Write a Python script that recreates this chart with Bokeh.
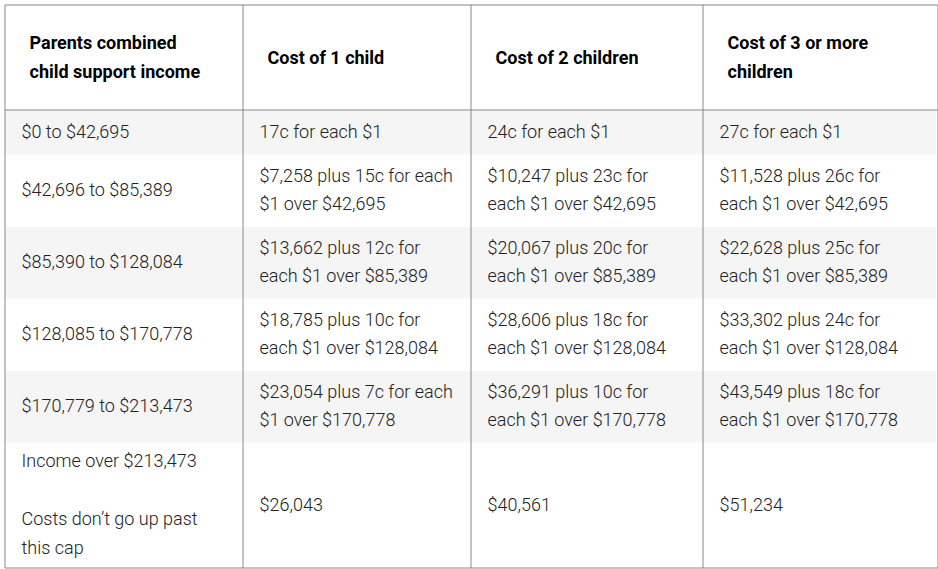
from bokeh.plotting import figure
from bokeh.models import Range1d, ColumnDataSource
from bokeh.core.properties import value
from bokeh.embed import file_html
from bokeh.resources import INLINE

# ---- table content ----
headers = [
    "Parents combined\nchild support income",
    "Cost of 1 child",
    "Cost of 2 children",
    "Cost of 3 or more\nchildren",
]
income = [
    "$0 to $42,695",
    "$42,696 to $85,389",
    "$85,390 to $128,084",
    "$128,085 to $170,778",
    "$170,779 to $213,473",
    "Income over $213,473\n\nCosts don\u2019t go up past\nthis cap",
]
cost_1_child = [
    "17c for each $1",
    "$7,258 plus 15c for each\n$1 over $42,695",
    "$13,662 plus 12c for\neach $1 over $85,389",
    "$18,785 plus 10c for\neach $1 over $128,084",
    "$23,054 plus 7c for each\n$1 over $170,778",
    "$26,043",
]
cost_2_children = [
    "24c for each $1",
    "$10,247 plus 23c for\neach $1 over $42,695",
    "$20,067 plus 20c for\neach $1 over $85,389",
    "$28,606 plus 18c for\neach $1 over $128,084",
    "$36,291 plus 10c for\neach $1 over $170,778",
    "$40,561",
]
cost_3_children = [
    "27c for each $1",
    "$11,528 plus 26c for\neach $1 over $42,695",
    "$22,628 plus 25c for\neach $1 over $85,389",
    "$33,302 plus 24c for\neach $1 over $128,084",
    "$43,549 plus 18c for\neach $1 over $170,778",
    "$51,234",
]
columns = [income, cost_1_child, cost_2_children, cost_3_children]

# ---- layout (screen-pixel coordinates) ----
W, H = 938, 569
left, right, top, bottom = 4.5, 937.5, 4.5, 567.5
col_lines = [242.5, 470.5, 702.5]
header_bottom = 109.5
row_edges = [109, 154, 226, 298, 370, 442, 567]
text_x = [21, 259, 487, 719]
header_x = [29, 267, 495, 727]
LH = 1.37

p = figure(width=W, height=H, output_backend="svg", toolbar_location=None,
           x_range=Range1d(0, W), y_range=Range1d(H, 0),
           x_axis_type=None, y_axis_type=None, min_border=0)
p.grid.visible = False
p.outline_line_color = None
p.background_fill_color = "white"
p.border_fill_color = "white"

# striped rows
shade = [i for i in range(len(income)) if i % 2 == 0]
p.quad(left=[left] * len(shade), right=[right - 2] * len(shade),
       top=[row_edges[i] + 0.5 for i in shade],
       bottom=[row_edges[i + 1] for i in shade],
       fill_color="#f5f5f5", line_color=None)

# grid lines
line_col = "#888888"
p.segment(x0=col_lines, x1=col_lines, y0=[top] * 3, y1=[bottom] * 3,
          line_color=line_col, line_width=1)
p.segment(x0=[left], x1=[right], y0=[header_bottom], y1=[header_bottom],
          line_color=line_col, line_width=1)
p.quad(left=[left], right=[right], top=[top], bottom=[bottom],
       fill_color=None, line_color=line_col, line_width=1)

# header text
hsrc = ColumnDataSource(dict(x=header_x, y=[(4 + 109) / 2] * 4, text=headers))
p.text(x="x", y="y", text="text", source=hsrc, text_font=value("Roboto"),
       text_font_style="bold", text_font_size="18px", text_color="#000000",
       text_baseline="middle", text_align="left", text_line_height=LH)

# body text
xs, ys, ts = [], [], []
for c, col in enumerate(columns):
    for r, t in enumerate(col):
        xs.append(text_x[c])
        ys.append((row_edges[r] + row_edges[r + 1]) / 2 - 1)
        ts.append(t)
bsrc = ColumnDataSource(dict(x=xs, y=ys, text=ts))
p.text(x="x", y="y", text="text", source=bsrc, text_font=value("Roboto Light"),
       text_font_size="18px", text_color="#222222",
       text_baseline="middle", text_align="left", text_line_height=LH)

open("out.html", "w").write(file_html(p, INLINE))
